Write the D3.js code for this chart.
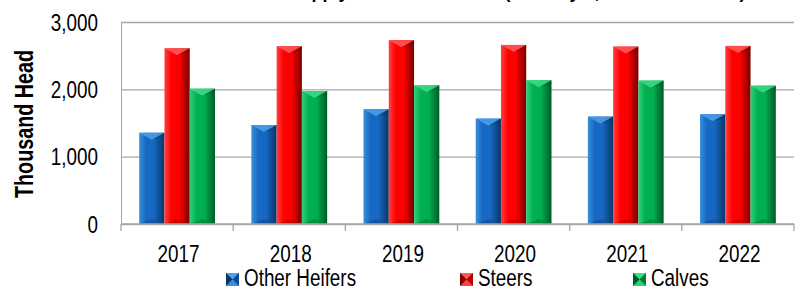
<!DOCTYPE html>
<html>
<head>
<meta charset="utf-8">
<script src="https://cdn.jsdelivr.net/npm/d3@7"></script>
<style>
  html, body { margin: 0; padding: 0; background: #fff; }
  svg { display: block; }
  .tick-label { font-family: "Liberation Sans", Arial, sans-serif; font-size: 23px; fill: #000; }
</style>
</head>
<body>
<div id="chart"></div>
<script>
  var years = ['2017', '2018', '2019', '2020', '2021', '2022'];
  var seriesNames = ['Other Heifers', 'Steers', 'Calves'];
  var otherHeifers = [1356, 1470, 1705, 1565, 1595, 1630];
  var steers = [2610, 2640, 2730, 2660, 2635, 2645];
  var calves = [2010, 1975, 2060, 2135, 2130, 2055];
  var yTicks = [0, 1000, 2000, 3000];
  var chartTitle = 'Feeder Cattle Supply Outside Feedlots (January 1, Thousand Head)';
  var yTitle = 'Thousand Head';

  var seriesValues = [otherHeifers, steers, calves];
  var palette = [
    {light: '#3c8ddc', base: '#1668c2', dark: '#0a3568', top: '#4da0ea', bottom: '#0f4a8c'},
    {light: '#ff4040', base: '#ff0000', dark: '#7a0000', top: '#ff5a5a', bottom: '#b00000'},
    {light: '#2fcf78', base: '#00b050', dark: '#005a26', top: '#3ddc86', bottom: '#007a36'}
  ];

  // narrow look for the labels (no condensed font installed)
  var sx = 0.82;

  var W = 803, H = 290;
  var margin = {top: 22, right: 9, bottom: 66, left: 121};
  var width = W - margin.left - margin.right;
  var height = H - margin.top - margin.bottom;

  var svg = d3.select('#chart').append('svg')
      .attr('width', W)
      .attr('height', H);

  var defs = svg.append('defs');
  palette.forEach(function (p, i) {
    var g = defs.append('linearGradient')
        .attr('id', 'bar-grad-' + i)
        .attr('x1', '0%').attr('x2', '100%').attr('y1', '0%').attr('y2', '0%');
    g.append('stop').attr('offset', '0%').attr('stop-color', p.light);
    g.append('stop').attr('offset', '28%').attr('stop-color', p.base);
    g.append('stop').attr('offset', '58%').attr('stop-color', p.base);
    g.append('stop').attr('offset', '100%').attr('stop-color', p.dark);
  });

  var x = d3.scaleBand().domain(years).range([0, width]).paddingInner(0).paddingOuter(0);
  var x1 = d3.scaleBand().domain(seriesNames).range([0, x.bandwidth()]).paddingInner(0).paddingOuter(0.72);
  var y = d3.scaleLinear().domain([0, 3000]).range([height, 0]);

  // title sits above the visible area, only its lowest part shows
  svg.append('text')
      .attr('x', margin.left + width / 2)
      .attr('y', -2.5)
      .attr('text-anchor', 'middle')
      .style('font-family', '"Liberation Sans", Arial, sans-serif')
      .style('font-weight', 'bold')
      .style('font-size', '18px')
      .text(chartTitle);

  var plot = svg.append('g').attr('transform', 'translate(' + margin.left + ',' + margin.top + ')');

  // gridlines + y labels
  var yAxis = d3.axisLeft(y).tickValues(yTicks).tickSize(-width).tickSizeOuter(0)
      .tickFormat(d3.format(','));
  var yG = plot.append('g').call(yAxis);
  yG.select('.domain').attr('stroke', '#a6a6a6');
  yG.selectAll('.tick line').attr('stroke', '#a6a6a6').attr('stroke-width', 1.3);
  yG.selectAll('.tick text')
      .attr('class', 'tick-label')
      .attr('transform', 'scale(' + sx + ',1)')
      .attr('x', -23 / sx)
      .attr('dy', '0.36em');

  // bars
  var groups = plot.selectAll('g.year').data(years).enter().append('g')
      .attr('class', 'year')
      .attr('transform', function (d) { return 'translate(' + x(d) + ',0)'; });

  groups.each(function (yr, yi) {
    var g = d3.select(this);
    seriesNames.forEach(function (s, si) {
      var v = seriesValues[si][yi];
      var bx = x1(s), bw = x1.bandwidth();
      var top = y(v), bot = y(0);
      var p = palette[si];
      var d = bw * 0.28;
      g.append('rect')
          .attr('x', bx).attr('y', top)
          .attr('width', bw).attr('height', bot - top)
          .attr('fill', 'url(#bar-grad-' + si + ')');
      g.append('path')
          .attr('d', 'M' + bx + ',' + top + 'L' + (bx + bw) + ',' + top + 'L' + (bx + bw / 2) + ',' + (top + d) + 'Z')
          .attr('fill', p.top).attr('opacity', 0.85);
      g.append('path')
          .attr('d', 'M' + (bx + bw / 2) + ',' + (top + d) + 'L' + (bx + bw) + ',' + top + 'L' + (bx + bw) + ',' + (top + d * 0.6) + 'Z')
          .attr('fill', p.dark).attr('opacity', 0.35);
      g.append('path')
          .attr('d', 'M' + bx + ',' + bot + 'L' + (bx + bw) + ',' + bot + 'L' + (bx + bw / 2) + ',' + (bot - d * 0.7) + 'Z')
          .attr('fill', p.bottom).attr('opacity', 0.55);
    });
  });

  // x axis line and boundary ticks
  var xG = plot.append('g').attr('transform', 'translate(0,' + height + ')');
  xG.append('line').attr('x1', 0).attr('x2', width).attr('y1', 0).attr('y2', 0)
      .attr('stroke', '#a6a6a6').attr('stroke-width', 1.3);
  var bounds = years.map(function (d) { return x(d); }).concat([x(years[years.length - 1]) + x.bandwidth()]);
  xG.selectAll('line.bound').data(bounds).enter().append('line')
      .attr('class', 'bound')
      .attr('x1', function (d) { return d; }).attr('x2', function (d) { return d; })
      .attr('y1', 0).attr('y2', 7)
      .attr('stroke', '#a6a6a6').attr('stroke-width', 1.3);
  var xAxis = d3.axisBottom(x).tickSize(0).tickSizeOuter(0);
  var xLab = plot.append('g').attr('transform', 'translate(0,' + height + ')').call(xAxis);
  xLab.select('.domain').remove();
  xLab.selectAll('.tick text')
      .attr('class', 'tick-label')
      .attr('transform', 'scale(' + sx + ',1)')
      .attr('x', 1.5 / sx)
      .attr('y', 38)
      .attr('dy', 0);

  // y title
  svg.append('text')
      .attr('transform', 'translate(33,124) rotate(-90)')
      .attr('text-anchor', 'middle')
      .attr('textLength', 148)
      .attr('lengthAdjust', 'spacingAndGlyphs')
      .style('font-family', '"Liberation Sans", Arial, sans-serif')
      .style('font-weight', 'bold')
      .style('font-size', '25px')
      .text(yTitle);

  // legend
  var legendX = [226, 460, 633];
  var leg = svg.append('g').attr('transform', 'translate(0,273)');
  seriesNames.forEach(function (s, i) {
    var p = palette[i];
    var lg = leg.append('g').attr('transform', 'translate(' + legendX[i] + ',0)');
    var m = 13, c = m / 2;
    lg.append('rect').attr('width', m).attr('height', m).attr('fill', p.base);
    lg.append('path').attr('d', 'M0,0L' + m + ',0L' + c + ',' + c + 'Z').attr('fill', p.top);
    lg.append('path').attr('d', 'M0,0L0,' + m + 'L' + c + ',' + c + 'Z').attr('fill', p.dark);
    lg.append('path').attr('d', 'M' + m + ',0L' + m + ',' + m + 'L' + c + ',' + c + 'Z').attr('fill', p.bottom);
    lg.append('path').attr('d', 'M0,' + m + 'L' + m + ',' + m + 'L' + c + ',' + c + 'Z').attr('fill', p.light);
    lg.append('text')
        .attr('class', 'tick-label')
        .attr('transform', 'scale(' + sx + ',1)')
        .attr('x', 18 / sx)
        .attr('y', 12.8)
        .text(s);
  });
</script>
</body>
</html>
